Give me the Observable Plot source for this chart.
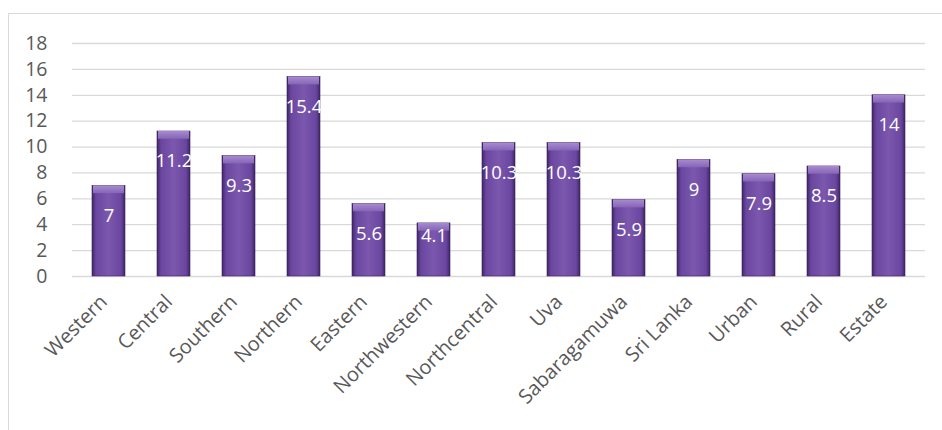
<!DOCTYPE html>
<html>
<head>
<meta charset="utf-8">
<script src="https://cdn.jsdelivr.net/npm/d3@7"></script>
<script src="https://cdn.jsdelivr.net/npm/@observablehq/plot@0.6"></script>
<style>
  html, body { margin: 0; padding: 0; background: #fff; }
  #wrap { position: relative; width: 942px; height: 430px; overflow: hidden; }
  #border { position: absolute; left: 8px; top: 13px; width: 960px; height: 440px; border: 1px solid #d9d9d9; box-sizing: border-box; }
  #chart { position: absolute; left: 0; top: 0; }
</style>
</head>
<body>
<div id="wrap">
  <div id="border"></div>
  <div id="chart"></div>
</div>
<script>
const regions = ["Western", "Central", "Southern", "Northern", "Eastern", "Northwestern", "Northcentral", "Uva", "Sabaragamuwa", "Sri Lanka", "Urban", "Rural", "Estate"];
const values = [7, 11.2, 9.3, 15.4, 5.6, 4.1, 10.3, 10.3, 5.9, 9, 7.9, 8.5, 14];
const yTicks = [0, 2, 4, 6, 8, 10, 12, 14, 16, 18];

const data = regions.map((r, i) => ({region: r, value: values[i]}));

const plot = Plot.plot({
  width: 942,
  height: 430,
  marginLeft: 72,
  marginRight: 17,
  marginTop: 43,
  marginBottom: 154,
  style: {fontFamily: "'Open Sans', sans-serif", background: "transparent"},
  x: {domain: regions, paddingInner: 0.49, paddingOuter: 0.245, label: null},
  y: {domain: [0, 18], label: null},
  marks: [
    Plot.gridY(yTicks, {stroke: "#d9d9d9", strokeOpacity: 1, strokeWidth: 1.3}),
    Plot.axisY(yTicks, {tickSize: 0, tickPadding: 25, fontSize: 19.5, fill: "#595959", label: null}),
    Plot.axisX({tickSize: 0, tickRotate: -45, tickPadding: 22, dx: -5, fontSize: 20, fill: "#595959", label: null}),
    Plot.barY(data, {x: "region", y: "value", fill: "url(#barGrad)", stroke: "#3a2258", strokeWidth: 0.6}),
    Plot.barY(data, {x: "region", y1: "value", y2: d => d.value - 0.6, fill: "url(#bevelGrad)", insetLeft: 1, insetRight: 1}),
    Plot.text(data, {x: "region", y: d => Math.max(d.value - 2.3, 3.1), text: d => String(d.value), fill: "white", fontSize: 18.5})
  ]
});

const svg = d3.select(plot);
const defs = svg.insert("defs", ":first-child");
const g = defs.append("linearGradient").attr("id", "barGrad").attr("x1", "0").attr("x2", "1").attr("y1", "0").attr("y2", "0");
g.append("stop").attr("offset", "0").attr("stop-color", "#3f2566");
g.append("stop").attr("offset", "0.12").attr("stop-color", "#6a46a0");
g.append("stop").attr("offset", "0.5").attr("stop-color", "#7b58ad");
g.append("stop").attr("offset", "0.88").attr("stop-color", "#6a46a0");
g.append("stop").attr("offset", "1").attr("stop-color", "#3f2566");
const b = defs.append("linearGradient").attr("id", "bevelGrad").attr("x1", "0").attr("x2", "0").attr("y1", "0").attr("y2", "1");
b.append("stop").attr("offset", "0").attr("stop-color", "#a88bd1");
b.append("stop").attr("offset", "1").attr("stop-color", "#8565b5");

document.getElementById("chart").appendChild(plot);
</script>
</body>
</html>
